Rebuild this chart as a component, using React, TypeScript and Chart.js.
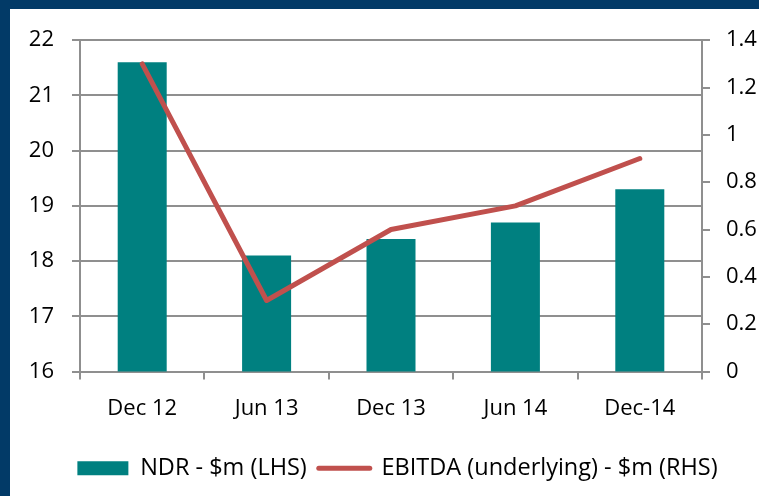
import React, { useEffect, useRef } from "react";
import { Chart, registerables } from "chart.js";

Chart.register(...registerables);

const categories = ["Dec 12", "Jun 13", "Dec 13", "Jun 14", "Dec-14"];
const ndrValues = [21.6, 18.1, 18.4, 18.7, 19.3];
const ebitdaValues = [1.3, 0.3, 0.6, 0.7, 0.9];
const leftTickLabels = ["16", "17", "18", "19", "20", "21", "22"];
const rightTickLabels = ["0", "0.2", "0.4", "0.6", "0.8", "1", "1.2", "1.4"];
const seriesNames = ["NDR - $m (LHS)", "EBITDA (underlying) - $m (RHS)"];

const TEAL = "#008080";
const RED = "#C0504D";
const GRID = "#8f8f8f";
const FONT = { family: "'Open Sans', sans-serif", size: 22 };
const LEGEND_FONT = { family: "'Open Sans', sans-serif", size: 23.5 };

const legendShift = {
  id: "legendShift",
  afterLayout(chart: any) {
    const lg = chart.legend;
    if (lg) {
      lg.left += 13;
      lg.right += 13;
    }
  },
};

export default function App() {
  const ref = useRef<HTMLCanvasElement | null>(null);

  useEffect(() => {
    if (!ref.current) return;
    const chart = new Chart(ref.current, {
      type: "bar",
      plugins: [legendShift],
      data: {
        labels: categories,
        datasets: [
          {
            type: "bar",
            label: seriesNames[0],
            data: ndrValues,
            backgroundColor: TEAL,
            borderWidth: 0,
            yAxisID: "y",
            order: 1,
            categoryPercentage: 1,
            barPercentage: 0.394,
          } as any,
          {
            type: "line",
            label: seriesNames[1],
            data: ebitdaValues,
            borderColor: RED,
            backgroundColor: RED,
            borderWidth: 5,
            pointRadius: 0,
            tension: 0,
            borderJoinStyle: "round",
            borderCapStyle: "round",
            yAxisID: "y2",
            order: 0,
          } as any,
        ],
      },
      options: {
        animation: false,
        responsive: false,
        maintainAspectRatio: false,
        layout: { padding: { left: 0, right: 0, top: 29, bottom: 6 } },
        plugins: {
          tooltip: { enabled: false },
          title: { display: false },
          legend: {
            position: "bottom",
            align: "center",
            labels: {
              color: "#000",
              font: LEGEND_FONT,
              usePointStyle: true,
              pointStyleWidth: 51,
              boxHeight: 14,
              padding: 12,
              generateLabels: () => [
                {
                  text: seriesNames[0],
                  fillStyle: TEAL,
                  strokeStyle: TEAL,
                  lineWidth: 0,
                  pointStyle: "rect",
                  hidden: false,
                  datasetIndex: 0,
                  fontColor: "#000",
                } as any,
                {
                  text: seriesNames[1],
                  fillStyle: RED,
                  strokeStyle: RED,
                  lineWidth: 5,
                  lineCap: "round",
                  pointStyle: "line",
                  hidden: false,
                  datasetIndex: 1,
                  fontColor: "#000",
                } as any,
              ],
            },
          },
        },
        scales: {
          x: {
            offset: true,
            grid: {
              offset: true,
              display: true,
              drawOnChartArea: false,
              drawTicks: true,
              tickLength: 8,
              color: GRID,
              lineWidth: 2,
            },
            border: { display: true, color: GRID, width: 2 },
            ticks: { color: "#000", font: FONT, padding: 16, maxRotation: 0 },
            afterFit: (s: any) => {
              s.height = 73;
            },
          },
          y: {
            position: "left",
            min: 16,
            max: 22,
            grid: {
              color: GRID,
              lineWidth: 2,
              drawTicks: true,
              tickLength: 8,
            },
            border: { display: true, color: GRID, width: 2 },
            ticks: {
              stepSize: 1,
              color: "#000",
              font: FONT,
              padding: 18,
              callback: (_v: any, i: number) => leftTickLabels[i],
            },
            afterFit: (s: any) => {
              s.width = 70;
            },
          },
          y2: {
            position: "right",
            min: 0,
            max: 1.4,
            grid: {
              drawOnChartArea: false,
              drawTicks: true,
              tickLength: 8,
              color: GRID,
              lineWidth: 2,
            },
            border: { display: true, color: GRID, width: 2 },
            ticks: {
              stepSize: 0.2,
              color: "#000",
              font: FONT,
              padding: 16,
              callback: (_v: any, i: number) => rightTickLabels[i],
            },
            afterFit: (s: any) => {
              s.width = 57;
            },
          },
        },
      },
    });
    return () => chart.destroy();
  }, []);

  return (
    <div
      style={{
        position: "fixed",
        left: 0,
        top: 0,
        width: 759,
        height: 496,
        background: "#023a67",
        overflow: "hidden",
      }}
    >
      <div
        style={{
          position: "absolute",
          left: 10,
          top: 9,
          width: 749,
          height: 487,
          background: "#ffffff",
        }}
      >
        <canvas ref={ref} width={749} height={487} style={{ display: "block" }} />
      </div>
    </div>
  );
}
